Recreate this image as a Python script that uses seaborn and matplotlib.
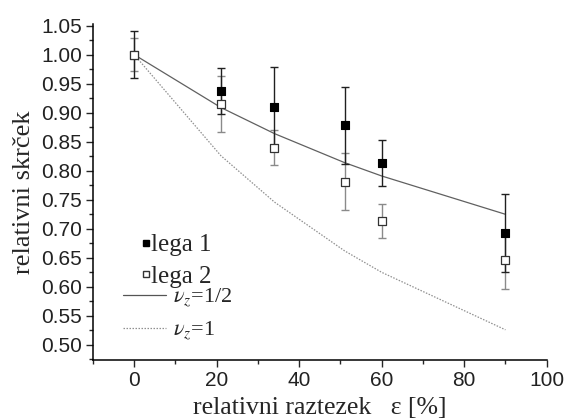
import numpy as np
import pandas as pd
import matplotlib
matplotlib.use("Agg")
import matplotlib.pyplot as plt
from matplotlib.lines import Line2D
from matplotlib.ticker import MultipleLocator
import seaborn as sns

# measured points
strain = [0, 21, 34, 51, 60, 90]
lega1 = [1.000, 0.937, 0.910, 0.878, 0.813, 0.693]
lega1_err = [0.040, 0.040, 0.068, 0.066, 0.040, 0.067]
lega2 = [1.000, 0.915, 0.840, 0.781, 0.714, 0.646]
lega2_err = [0.028, 0.049, 0.030, 0.049, 0.029, 0.049]

# model curves
nu_half = [1.000, 0.909, 0.864, 0.814, 0.791, 0.725]
nu_one = [1.000, 0.826, 0.746, 0.662, 0.625, 0.526]

sns.set_style("ticks")
plt.rcParams["mathtext.fontset"] = "stix"
serif = "Liberation Serif"
sans = "Liberation Sans"

fig = plt.figure(figsize=(5.65, 4.18), dpi=100)
ax = fig.add_axes([0.1646, 0.1388, 0.803, 0.8026])

df = pd.DataFrame({"strain": strain, "half": nu_half, "one": nu_one})
sns.lineplot(data=df, x="strain", y="half", ax=ax, color="#606060", lw=0.9)
sns.lineplot(data=df, x="strain", y="one", ax=ax, color="#909090", lw=0.9, linestyle=(0, (1.2, 1.2)))

ax.errorbar(strain, lega2, yerr=lega2_err, fmt="none", ecolor="#8a8a8a", elinewidth=1.0, capsize=3, capthick=1.0)
ax.errorbar(strain, lega1, yerr=lega1_err, fmt="none", ecolor="#202020", elinewidth=1.0, capsize=3, capthick=1.0)

sns.scatterplot(x=strain, y=lega1, ax=ax, marker="s", s=36, color="black", edgecolor="black", linewidth=0.8, zorder=5)
sns.scatterplot(x=strain, y=lega2, ax=ax, marker="s", s=36, color="white", edgecolor="#333333", linewidth=0.9, zorder=5)

ax.set_xlim(-10, 100)
ax.set_ylim(0.474, 1.052)
ax.xaxis.set_major_locator(MultipleLocator(20))
ax.xaxis.set_minor_locator(MultipleLocator(10))
ax.yaxis.set_minor_locator(MultipleLocator(0.025))
ax.set_yticks(np.arange(0.50, 1.051, 0.05))
ax.set_yticklabels([f"{v:.2f}" for v in np.arange(0.50, 1.051, 0.05)])
ax.tick_params(which="major", direction="out", length=5, width=1, labelsize=15, pad=3)
ax.tick_params(which="minor", direction="out", length=3, width=1)
for lab in ax.get_xticklabels() + ax.get_yticklabels():
    lab.set_family(sans)
    lab.set_color("#222222")
sns.despine(ax=ax)
for s in ("left", "bottom"):
    ax.spines[s].set_linewidth(1.1)
    ax.spines[s].set_color("black")

ax.set_xlabel("relativni raztezek   ε [%]", family=serif, fontsize=18.5, labelpad=5)
ax.set_ylabel("relativni skrček", family=serif, fontsize=19, labelpad=4)

h1 = [Line2D([], [], marker="s", ls="none", color="black", ms=4.5),
      Line2D([], [], marker="s", ls="none", mfc="white", mec="#333333", ms=4.5)]
leg1 = ax.legend(h1, ["lega 1", "lega 2"], loc="upper left", bbox_to_anchor=(0.108, 0.376),
                 frameon=False, handlelength=0.3, handletextpad=0.05, labelspacing=0.35,
                 borderpad=0, borderaxespad=0, prop={"family": serif, "size": 18})
ax.add_artist(leg1)
h2 = [Line2D([], [], color="#555555", lw=0.9),
      Line2D([], [], color="#909090", lw=0.9, ls=(0, (1.2, 1.2)))]
ax.legend(h2, [r"$\nu_z$=1/2", r"$\nu_z$=1"], loc="upper left", bbox_to_anchor=(0.066, 0.22),
          frameon=False, handlelength=1.95, handletextpad=0.32, labelspacing=0.45,
          borderpad=0, borderaxespad=0, prop={"family": serif, "size": 16})

fig.savefig("out.png", dpi=100)
